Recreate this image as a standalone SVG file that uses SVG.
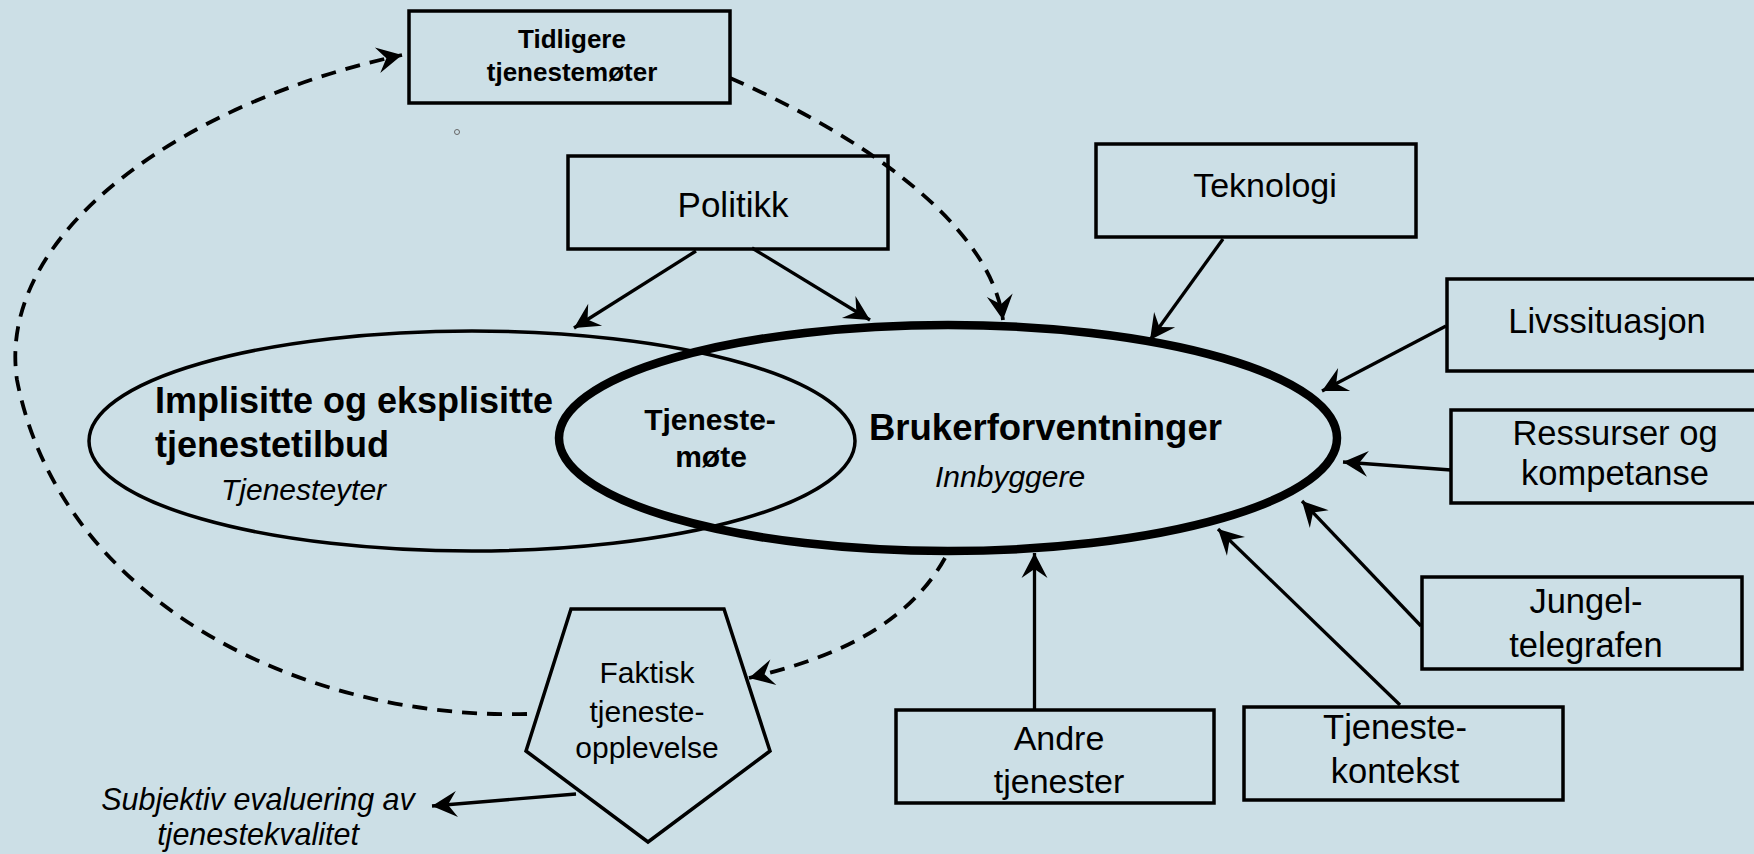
<svg xmlns="http://www.w3.org/2000/svg" width="1754" height="854" viewBox="0 0 1754 854">
<defs>
<marker id="ah" markerUnits="userSpaceOnUse" markerWidth="30" markerHeight="30" viewBox="-27 -15 30 30" refX="0" refY="0" orient="auto">
<path d="M0,0 L-25,-13 L-16,0 L-25,13 Z" fill="#000"/>
</marker>
<style>
.box{fill:none;stroke:#000;stroke-width:3.5}
.t{font-family:"Liberation Sans",Arial,Helvetica,sans-serif;fill:#000;text-anchor:middle}
.b{font-weight:bold}
.i{font-style:italic}
.arr{fill:none;stroke:#000;stroke-width:3.3;marker-end:url(#ah)}
.dash{fill:none;stroke:#000;stroke-width:3.8;stroke-dasharray:15 10;marker-end:url(#ah)}
</style>
</defs>
<rect x="0" y="0" width="1754" height="854" fill="#CCDFE6"/>

<g id="ellipse-tilbud">
<ellipse cx="472" cy="441" rx="383" ry="110" fill="none" stroke="#000" stroke-width="3.5"/>
<text class="t b" x="155" y="413" font-size="36" style="text-anchor:start">Implisitte og eksplisitte</text>
<text class="t b" x="155" y="457" font-size="36" style="text-anchor:start">tjenestetilbud</text>
<text class="t i" x="221" y="500" font-size="30" style="text-anchor:start">Tjenesteyter</text>
</g>

<g id="ellipse-bruker">
<ellipse cx="948" cy="438" rx="389" ry="113" fill="none" stroke="#000" stroke-width="8.5"/>
<text class="t b" x="869" y="440" font-size="36.5" style="text-anchor:start">Brukerforventninger</text>
<text class="t i" x="935" y="487" font-size="30" style="text-anchor:start">Innbyggere</text>
</g>

<g id="tjenestemote">
<text class="t b" x="710" y="430" font-size="30">Tjeneste-</text>
<text class="t b" x="711" y="467" font-size="30">møte</text>
</g>

<g id="tidligere">
<rect class="box" x="409" y="11" width="321" height="92"/>
<text class="t b" x="572" y="48" font-size="26">Tidligere</text>
<text class="t b" x="572" y="81" font-size="26">tjenestemøter</text>
</g>

<g id="mark">
<circle cx="457" cy="132" r="2.5" fill="none" stroke="#666" stroke-width="1"/>
</g>

<g id="politikk">
<rect class="box" x="568" y="156" width="320" height="93"/>
<text class="t" x="733" y="217" font-size="35">Politikk</text>
</g>

<g id="teknologi">
<rect class="box" x="1096" y="144" width="320" height="93"/>
<text class="t" x="1265" y="197" font-size="34">Teknologi</text>
</g>

<g id="livssituasjon">
<rect class="box" x="1447" y="279" width="320" height="92"/>
<text class="t" x="1607" y="333" font-size="34.5">Livssituasjon</text>
</g>

<g id="ressurser">
<rect class="box" x="1451" y="410" width="320" height="93"/>
<text class="t" x="1615" y="445" font-size="34.5">Ressurser og</text>
<text class="t" x="1615" y="485" font-size="34.5">kompetanse</text>
</g>

<g id="jungeltelegrafen">
<rect class="box" x="1422" y="577" width="320" height="92"/>
<text class="t" x="1586" y="613" font-size="34.5">Jungel-</text>
<text class="t" x="1586" y="657" font-size="34.5">telegrafen</text>
</g>

<g id="tjenestekontekst">
<rect class="box" x="1244" y="707" width="319" height="93"/>
<text class="t" x="1395" y="739" font-size="34.5">Tjeneste-</text>
<text class="t" x="1395" y="783" font-size="34.5">kontekst</text>
</g>

<g id="andre">
<rect class="box" x="896" y="710" width="318" height="93"/>
<text class="t" x="1059" y="750" font-size="34">Andre</text>
<text class="t" x="1059" y="793" font-size="34">tjenester</text>
</g>

<g id="faktisk">
<polygon points="571,609 724,609 770,751 648,842 526,751" fill="none" stroke="#000" stroke-width="3.5" stroke-linejoin="miter"/>
<text class="t" x="647" y="683" font-size="30">Faktisk</text>
<text class="t" x="647" y="722" font-size="30">tjeneste-</text>
<text class="t" x="647" y="758" font-size="30">opplevelse</text>
</g>

<g id="subjektiv">
<text class="t i" x="258" y="810" font-size="30.5">Subjektiv evaluering av</text>
<text class="t i" x="258" y="845" font-size="30.5">tjenestekvalitet</text>
</g>

<g id="connectors">
<path class="arr" d="M696,251 L574,328"/>
<path class="arr" d="M752,248 L870,320"/>
<path class="arr" d="M1223,239 L1150,340"/>
<path class="arr" d="M1446,326 L1322,391"/>
<path class="arr" d="M1451,470 L1343,462"/>
<path class="arr" d="M1421,626 L1302,501"/>
<path class="arr" d="M1400,705 L1218,529"/>
<path class="arr" d="M1034.5,710 L1034.5,553"/>
<path class="arr" d="M576,794 L432,806"/>
<path class="dash" d="M730,78 C850,130 990,220 1003,320"/>
<path class="dash" d="M945,558 C905,630 825,660 749,678"/>
<path class="dash" d="M527,714 C300,720 60,600 17,380 C-5,230 190,100 402,55"/>
</g>
</svg>
